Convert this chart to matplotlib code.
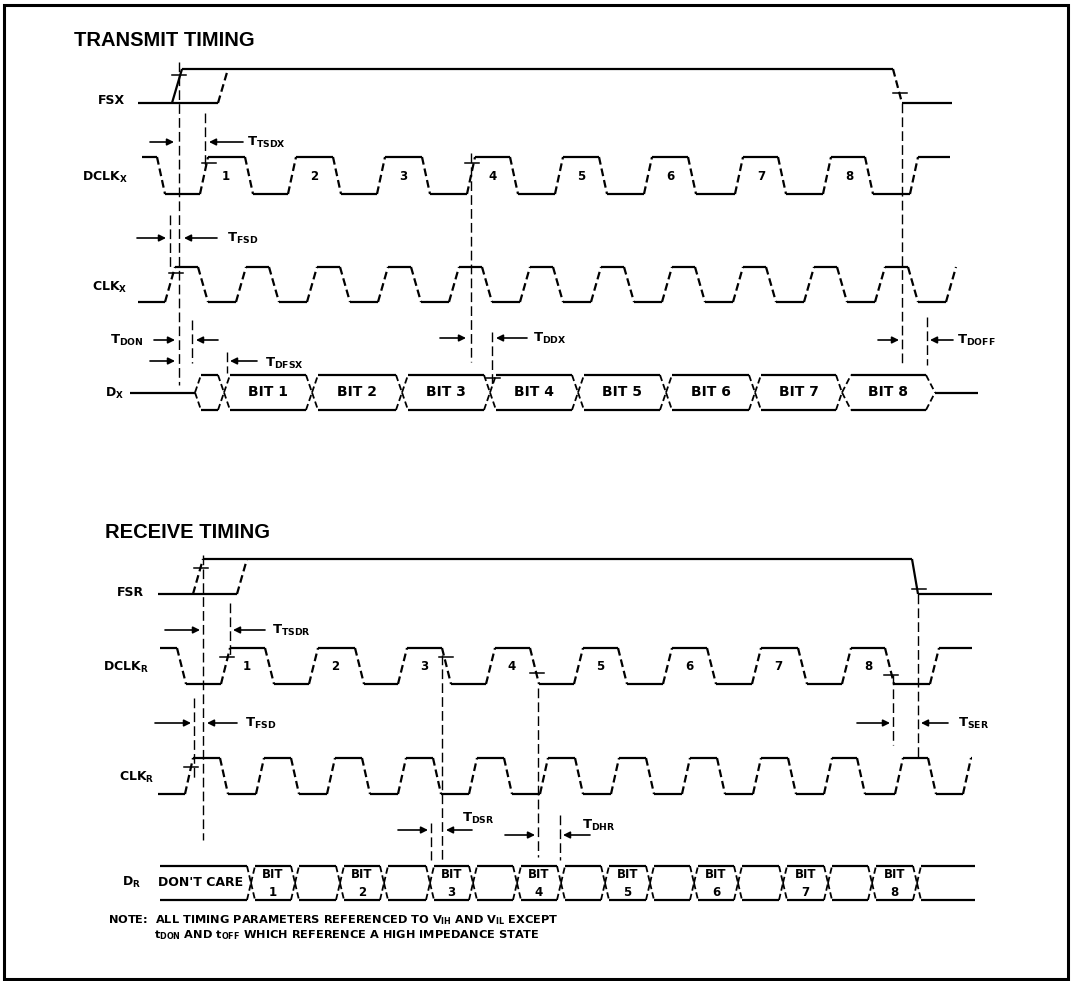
import matplotlib.pyplot as plt

plt.rcParams['font.family'] = 'DejaVu Sans'
plt.rcParams['mathtext.fontset'] = 'dejavusans'

# ---- transmit timing: edge positions ----
fsx_rise = [172, 218]          # earliest (solid) and latest (dashed) rising edge
fsx_fall = 893
dclkx_rise = [200, 288, 377, 467, 555, 644, 735, 823, 910]
dclkx_fall = [157, 245, 333, 422, 510, 599, 688, 778, 865]
clkx_rise = [165, 236, 307, 378, 449, 520, 591, 662, 733, 804, 875, 946]
clkx_fall = [198, 269, 340, 411, 482, 553, 624, 695, 766, 837, 908]
dx_cross = [195, 224, 312, 402, 490, 578, 666, 755, 842, 935]
dx_labels = ['', 'BIT 1', 'BIT 2', 'BIT 3', 'BIT 4', 'BIT 5', 'BIT 6', 'BIT 7', 'BIT 8']
dclk_digits = ['1', '2', '3', '4', '5', '6', '7', '8']

# ---- receive timing ----
fsr_rise = [193, 237]
fsr_fall = 912
dclkr_rise = [221, 309, 398, 486, 574, 663, 752, 842, 930]
dclkr_fall = [177, 265, 355, 442, 530, 618, 707, 798, 885]
clkr_rise = [185, 256, 327, 398, 469, 540, 611, 682, 753, 824, 895, 963]
clkr_fall = [220, 291, 362, 433, 504, 575, 646, 717, 788, 857, 928]
dr_cross = [251, 295, 340, 384, 430, 473, 517, 561, 605, 650, 694, 738, 783, 828, 872, 917]
dr_labels = ['1', '', '2', '', '3', '', '4', '', '5', '', '6', '', '7', '', '8']

# reference lines (x, y from, y to)
tx_guides = [(179, 62, 385), (170, 215, 267), (205, 113, 167), (192, 320, 363),
             (227, 352, 373), (471, 153, 362), (492, 332, 385), (902, 103, 365),
             (927, 317, 365)]
rx_guides = [(203, 555, 840), (230, 603, 657), (194, 698, 778), (442, 655, 860),
             (431, 823, 860), (538, 688, 857), (560, 815, 860), (918, 594, 757),
             (893, 675, 745)]

# timing parameters: subscript, label x, label y, arrow y, (tail, tip) right, (tail, tip) left
tx_params = [('TSDX', 247, 142, 142, (150, 174), (243, 209)),
             ('FSD', 227, 238, 238, (137, 166), (217, 184)),
             ('DON', 110, 340, 340, (154, 175), (218, 196)),
             ('DFSX', 265, 363, 361, (150, 175), (257, 230)),
             ('DDX', 533, 338, 338, (440, 466), (527, 496)),
             ('DOFF', 957, 340, 340, (878, 899), (953, 930))]
rx_params = [('TSDR', 272, 630, 630, (165, 200), (265, 233)),
             ('FSD', 245, 723, 723, (155, 191), (237, 207)),
             ('DSR', 462, 818, 830, (398, 428), (472, 446)),
             ('DHR', 582, 825, 835, (505, 535), (590, 563)),
             ('SER', 958, 723, 723, (857, 890), (948, 921))]

tx_ticks = [(179, 75), (209, 163), (176, 273), (472, 163), (493, 378), (900, 93)]
rx_ticks = [(201, 568), (227, 657), (446, 657), (537, 673), (919, 589), (891, 675), (191, 767)]

LW = 1.6
DASH = (0, (3.5, 1.8))

fig = plt.figure(figsize=(10.72, 9.81), dpi=100)
ax = fig.add_axes([0, 0, 1, 1])
ax.set_xlim(0, 1072)
ax.set_ylim(981, 0)
ax.axis('off')


def seg(xs, ys, dashed=False, lw=LW):
    ax.plot(xs, ys, color='k', lw=lw, ls=DASH if dashed else '-',
            solid_capstyle='butt', dash_capstyle='butt')


def clock(rises, falls, hi, lo, x0, x1, tw):
    edges = sorted([(r, 1) for r in rises] + [(f, 0) for f in falls])
    level = hi if edges[0][1] == 0 else lo
    x = x0
    for t, up in edges:
        seg([x, t], [level, level])
        new = hi if up else lo
        seg([t, t + tw], [level, new], dashed=True)
        level = new
        x = t + tw
    if x < x1:
        seg([x, x1], [level, level])


def cell(a, b, yt, yb, s, left=True, right=True):
    ym = (yt + yb) / 2
    xa = a + s if left else a
    xb = b - s if right else b
    seg([xa, xb], [yt, yt])
    seg([xa, xb], [yb, yb])
    if left:
        seg([a, a + s], [ym, yt], dashed=True, lw=1.3)
        seg([a, a + s], [ym, yb], dashed=True, lw=1.3)
    if right:
        seg([b - s, b], [yt, ym], dashed=True, lw=1.3)
        seg([b - s, b], [yb, ym], dashed=True, lw=1.3)


def guides(items):
    for x, y0, y1 in items:
        ax.plot([x, x], [y0, y1], color='k', lw=1.0, ls=(0, (7, 3)))


def params(items):
    for sub, lx, ly, ay, r, l in items:
        for tail, tip in (r, l):
            ax.annotate('', xy=(tip, ay), xytext=(tail, ay),
                        arrowprops=dict(arrowstyle='-|>', color='k', lw=1.2,
                                        mutation_scale=10, shrinkA=0, shrinkB=0))
        ax.text(lx, ly, 'T$_\\mathbf{%s}$' % sub, fontsize=9.5, fontweight='bold',
                ha='left', va='center')


def ticks(items):
    for x, y in items:
        ax.plot([x - 7, x + 7], [y, y], color='k', lw=1.1)


# frame
ax.add_patch(plt.Rectangle((4, 5), 1064, 974, fill=False, lw=2.2, ec='k'))

# titles
ax.text(74, 40, 'TRANSMIT TIMING', fontsize=14.5, fontweight='bold',
        family='Liberation Sans', ha='left', va='center')
ax.text(105, 533, 'RECEIVE TIMING', fontsize=14.5, fontweight='bold',
        family='Liberation Sans', ha='left', va='center')

# signal names
names = [('FSX', 98, 101), ('DCLK$_\\mathbf{X}$', 82, 177), ('CLK$_\\mathbf{X}$', 92, 287),
         ('D$_\\mathbf{X}$', 105, 393), ('FSR', 117, 592), ('DCLK$_\\mathbf{R}$', 103, 667),
         ('CLK$_\\mathbf{R}$', 119, 777), ('D$_\\mathbf{R}$', 122, 882)]
for s, x, y in names:
    ax.text(x, y, s, fontsize=9, fontweight='bold', ha='left', va='center')

# ---------------- transmit ----------------
hi, lo = 69, 103
seg([138, fsx_rise[1]], [lo, lo])
seg([fsx_rise[0], fsx_rise[0] + 10], [lo, hi])
seg([fsx_rise[1], fsx_rise[1] + 10], [lo, hi], dashed=True)
seg([fsx_rise[0] + 10, fsx_fall], [hi, hi])
seg([fsx_fall, fsx_fall + 9], [hi, lo], dashed=True)
seg([fsx_fall + 9, 952], [lo, lo])

clock(dclkx_rise, dclkx_fall, 157, 194, 142, 950, 8)
for d, r in zip(dclk_digits, dclkx_rise):
    ax.text(r + 26, 177, d, fontsize=8.5, fontweight='bold', ha='center', va='center')

clock(clkx_rise, clkx_fall, 267, 302, 138, 955, 10)

yt, yb = 375, 410
ym = (yt + yb) / 2
seg([130, dx_cross[0]], [ym, ym])
for i, (a, b) in enumerate(zip(dx_cross[:-1], dx_cross[1:])):
    cell(a, b, yt, yb, 6 if i < len(dx_labels) - 1 else 9)
    ax.text((a + b) / 2, ym, dx_labels[i], fontsize=10, fontweight='bold',
            ha='center', va='center')
seg([dx_cross[-1], 978], [ym, ym])

guides(tx_guides)
params(tx_params)
ticks(tx_ticks)

# ---------------- receive ----------------
hi, lo = 559, 594
seg([158, fsr_rise[1]], [lo, lo])
seg([fsr_rise[0], fsr_rise[0] + 10], [lo, hi], dashed=True)
seg([fsr_rise[1], fsr_rise[1] + 10], [lo, hi], dashed=True)
seg([fsr_rise[0] + 10, fsr_fall], [hi, hi])
seg([fsr_fall, fsr_fall + 6], [hi, lo])
seg([fsr_fall + 6, 992], [lo, lo])

clock(dclkr_rise, dclkr_fall, 648, 684, 160, 972, 9)
for d, r in zip(dclk_digits, dclkr_rise):
    ax.text(r + 26, 667, d, fontsize=8.5, fontweight='bold', ha='center', va='center')

clock(clkr_rise, clkr_fall, 758, 794, 158, 972, 8)

yt, yb = 866, 900
ym = (yt + yb) / 2
cell(160, dr_cross[0], yt, yb, 4, left=False)
ax.text(201, ym, "DON'T CARE", fontsize=9, fontweight='heavy', ha='center', va='center')
for i, (a, b) in enumerate(zip(dr_cross[:-1], dr_cross[1:])):
    cell(a, b, yt, yb, 4)
    if dr_labels[i]:
        ax.text((a + b) / 2, ym - 8, 'BIT', fontsize=8.5, fontweight='bold',
                ha='center', va='center')
        ax.text((a + b) / 2, ym + 9, dr_labels[i], fontsize=8.5, fontweight='bold',
                ha='center', va='center')
cell(dr_cross[-1], 975, yt, yb, 4, right=False)

guides(rx_guides)
params(rx_params)
ticks(rx_ticks)

# note
ax.text(108, 920, 'NOTE:  ALL TIMING PARAMETERS REFERENCED TO V$_\\mathbf{IH}$ AND V$_\\mathbf{IL}$ EXCEPT',
        fontsize=8.2, fontweight='bold', ha='left', va='center')
ax.text(154, 935, 't$_\\mathbf{DON}$ AND t$_\\mathbf{OFF}$ WHICH REFERENCE A HIGH IMPEDANCE STATE',
        fontsize=8.2, fontweight='bold', ha='left', va='center')

fig.savefig('out.png', dpi=100)
